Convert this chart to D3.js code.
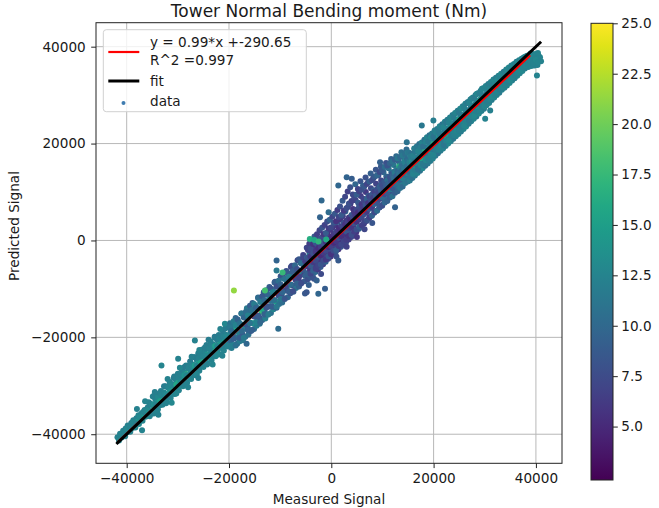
<!DOCTYPE html>
<html><head><meta charset="utf-8">
<script src="https://cdn.jsdelivr.net/npm/d3@7"></script>
<style>body{margin:0;background:#fff}svg{display:block}text{font-family:"DejaVu Sans",sans-serif;fill:#1a1a1a}</style>
</head><body><svg id="c" width="659" height="508"></svg>
<script>
const title = "Tower Normal Bending moment (Nm)";
const xLabel = "Measured Signal", yLabel = "Predicted Signal";
const xTicks = [-40000, -20000, 0, 20000, 40000];
const yTicks = [-40000, -20000, 0, 20000, 40000];
const cbTicks = [5, 7.5, 10, 12.5, 15, 17.5, 20, 22.5, 25];
const cbRange = [2.35, 25];
const slope = 0.99, intercept = -290.65, r2 = 0.997;
const fitX = [-41800, 40800], fitY = [-41800, 40800];
const regX = [-41800, 38900];
const legendLabels = ["y = 0.99*x +-290.65", "R^2 =0.997", "fit", "data"];

// [measured, predicted, colour value]
const lowerTail = [[-41800,-40600,12.4],[-41500,-41300,12.8],[-41300,-39900,12.1],[-41000,-40700,12.6],[-40700,-39300,12.3],[-40600,-40200,12.9],[-40300,-40400,12.5],[-40200,-38800,11.9],[-39900,-39600,12.7],[-39800,-38200,12.2],[-39500,-39000,13.1],[-39300,-39500,12.4],[-39100,-37700,12.0],[-38900,-38700,12.6],[-38700,-37100,12.3],[-38500,-38000,13.4],[-38300,-38600,12.8],[-38100,-36700,12.1],[-37900,-37400,14.6],[-37700,-36100,12.5],[-37600,-37900,12.9],[-37300,-36800,13.6],[-37100,-35700,12.2],[-36900,-37200,12.7],[-36700,-36100,15.2],[-36500,-35000,12.4],[-36300,-36400,12.9],[-36100,-35600,13.3],[-35900,-34500,12.0],[-41100,-40000,12.5],[-40500,-39700,12.2],[-40000,-38900,12.8],[-39400,-38400,12.3],[-38800,-37500,12.6],[-38200,-37800,12.1],[-37500,-36500,12.9],[-36800,-35400,12.4],[-36200,-35000,12.7]];

const lowerBand = [[-35700,-33400,12.3],[-35600,-35200,14.8],[-35500,-36300,12.6],[-35200,-33800,12.1],[-35100,-35500,12.9],[-34900,-32200,12.4],[-34800,-34200,15.9],[-34700,-35700,12.7],[-34400,-32800,12.2],[-34300,-34800,13.0],[-34100,-31700,11.8],[-34000,-33400,14.1],[-33900,-34900,12.5],[-33600,-32200,12.3],[-33500,-34000,12.8],[-33300,-31100,12.0],[-33100,-32600,15.4],[-33000,-33900,12.4],[-32700,-31400,12.6],[-32600,-33100,13.1],[-32400,-30100,11.9],[-32300,-31800,14.3],[-32200,-33300,12.7],[-31900,-30400,12.2],[-31800,-32200,12.9],[-31600,-29200,12.1],[-31500,-30900,16.2],[-31400,-32500,12.5],[-31100,-29700,12.4],[-31000,-31400,12.8],[-30800,-28400,11.7],[-30700,-30100,14.0],[-30600,-31700,12.6],[-30300,-28900,12.3],[-30200,-30600,13.2],[-30000,-27500,12.0],[-29900,-29300,15.6],[-29800,-30900,12.4],[-29500,-28000,12.2],[-29400,-29800,12.9],[-29200,-26700,11.8],[-29100,-28500,14.4],[-29000,-30100,12.7],[-28700,-27200,12.5],[-28600,-29000,12.2],[-28400,-25800,12.1],[-28300,-27600,16.8],[-28200,-29300,12.5],[-27900,-26400,12.3],[-27800,-28200,13.0],[-27600,-25000,11.6],[-27500,-26800,14.2],[-27400,-28600,12.6],[-27100,-25600,12.4],[-27000,-27400,12.8],[-26800,-24100,11.9],[-26700,-26000,15.1],[-26600,-27800,12.5],[-26300,-24700,12.2],[-26200,-26600,12.9],[-26000,-23300,12.0],[-25900,-25200,14.7],[-25800,-26900,12.4],[-25500,-23900,12.3],[-25400,-25800,13.1],[-25200,-22500,11.7],[-25100,-24400,16.0],[-25000,-26100,12.6],[-24700,-23100,12.5],[-24600,-25000,12.2],[-24400,-21600,11.9],[-24300,-23600,14.5],[-24200,-25400,12.7],[-23900,-22300,12.1],[-23800,-24200,12.9],[-23600,-20800,12.3],[-23500,-22800,15.3],[-23400,-24700,12.4],[-23100,-21500,12.0],[-23000,-23400,12.8],[-22800,-19900,11.5],[-22700,-22000,14.0],[-22600,-23900,12.6],[-22300,-20600,12.2],[-22200,-22600,13.0],[-22000,-19500,11.8],[-21900,-21600,16.5],[-21800,-23500,12.3],[-21500,-20200,12.4],[-21400,-22200,12.7],[-21200,-18700,11.6],[-21100,-20800,14.8],[-21000,-22700,12.5],[-20700,-19400,12.1],[-20600,-21400,12.9],[-20400,-17900,11.9],[-20300,-20000,15.0],[-20200,-21900,12.4]];

const lowerFill = [[-35500,-33600,12.2],[-35500,-35200,12.8],[-35100,-33900,12.5],[-35100,-35700,12.1],[-34700,-32100,12.0],[-34700,-33800,13.4],[-34300,-33800,12.6],[-34300,-35600,12.3],[-33900,-32300,12.9],[-33900,-34100,12.4],[-33500,-31600,12.1],[-33500,-33200,14.9],[-33100,-31900,12.7],[-33100,-33700,12.2],[-32700,-30100,11.8],[-32700,-31800,12.5],[-32300,-31800,13.0],[-32300,-33600,12.4],[-31900,-30300,12.6],[-31900,-32100,12.0],[-31500,-29600,12.3],[-31500,-31200,13.6],[-31100,-29900,12.8],[-31100,-31700,12.5],[-30700,-28100,11.9],[-30700,-29800,12.4],[-30300,-29800,15.8],[-30300,-31600,12.7],[-29900,-28300,12.2],[-29900,-30100,12.6],[-29500,-27600,12.0],[-29500,-29200,12.9],[-29100,-27900,12.5],[-29100,-29700,12.1],[-28700,-26100,11.7],[-28700,-27800,13.9],[-28300,-27800,12.6],[-28300,-29600,12.3],[-27900,-26300,12.4],[-27900,-28100,12.8],[-27500,-25600,12.1],[-27500,-27200,12.6],[-27100,-25900,12.9],[-27100,-27700,12.2],[-26700,-24100,11.8],[-26700,-25800,14.6],[-26300,-25800,12.5],[-26300,-27600,12.7],[-25900,-24300,12.3],[-25900,-26100,12.0],[-25500,-23600,12.2],[-25500,-25200,15.5],[-25100,-23900,12.6],[-25100,-25700,12.4],[-24700,-22100,11.9],[-24700,-23800,12.7],[-24300,-23800,12.8],[-24300,-25600,12.1],[-23900,-22300,12.4],[-23900,-24100,13.2],[-23500,-21600,12.0],[-23500,-23200,12.5],[-23100,-21900,12.7],[-23100,-23700,12.3],[-22700,-20100,11.6],[-22700,-21800,15.1],[-22300,-21800,12.5],[-22300,-23600,12.8],[-21900,-20300,12.2],[-21900,-22100,12.6],[-21500,-19600,11.9],[-21500,-21200,13.7],[-21100,-19900,12.4],[-21100,-21700,12.0],[-20700,-18100,11.7],[-20700,-19800,12.6],[-20300,-19800,12.9],[-20300,-21600,12.3]];

const lowerEdges = [[-38000,-34800,12.2],[-36400,-33200,12.5],[-34500,-31300,12.0],[-32000,-28600,12.4],[-29600,-26300,12.7],[-27300,-24000,12.1],[-25800,-22600,12.6],[-24000,-20500,11.9],[-21700,-18300,12.3],[-20800,-17200,12.8],[-37000,-39200,12.5],[-33800,-36000,12.2],[-31200,-33500,12.8],[-28000,-30300,12.4],[-26000,-28400,12.0],[-23200,-25600,12.6],[-21300,-23800,12.3]];

const midLower = [[-19800,-17100,10.8],[-19700,-18900,12.6],[-19600,-20700,9.5],[-19500,-22200,11.9],[-19200,-17700,11.2],[-19100,-19800,8.7],[-19000,-21600,12.2],[-18700,-16000,9.9],[-18600,-18300,15.8],[-18500,-20100,11.0],[-18400,-21300,10.4],[-18100,-16900,12.1],[-18000,-19000,9.2],[-17900,-20800,11.6],[-17600,-15100,10.3],[-17500,-17400,13.5],[-17400,-19300,8.8],[-17300,-20600,11.4],[-17000,-15800,9.6],[-16900,-18200,12.4],[-16800,-19900,10.1],[-16500,-14000,11.5],[-16400,-16300,16.9],[-16300,-18100,9.4],[-16200,-19400,10.7],[-15900,-14600,10.0],[-15800,-17000,12.8],[-15700,-18700,8.6],[-15400,-12900,9.3],[-15300,-15200,11.7],[-15200,-17100,14.2],[-15100,-18300,10.2],[-14800,-13500,11.1],[-14700,-15800,8.9],[-14600,-17600,11.8],[-14300,-11800,9.7],[-14200,-14000,12.3],[-14100,-15900,8.4],[-14000,-17200,10.9],[-13700,-12300,10.5],[-13600,-14700,17.8],[-13500,-16400,9.1],[-13200,-10700,8.7],[-13100,-12900,11.4],[-13000,-14800,9.8],[-12900,-16100,12.0],[-12600,-11200,10.1],[-12500,-13600,8.3],[-12400,-15300,11.3],[-12100,-9600,9.0],[-12000,-11800,13.9],[-11900,-13700,8.6],[-11800,-15000,10.6],[-11500,-10100,11.2],[-11400,-12500,9.4],[-11300,-14200,12.5],[-11000,-8500,8.2],[-10900,-10700,10.8],[-10800,-12600,15.1],[-10700,-13900,9.0],[-10400,-9000,9.9],[-10300,-11400,7.9],[-10200,-13100,11.0],[-9900,-7400,8.5],[-9800,-9600,12.2],[-9700,-11500,8.1],[-9600,-12800,10.4],[-9300,-7900,10.6],[-9200,-10300,7.6],[-9100,-12000,9.3],[-8800,-6300,8.0],[-8700,-8500,11.6],[-8600,-10400,7.4],[-8500,-11700,9.8],[-8200,-6800,9.1],[-8100,-9200,16.4],[-8000,-10900,8.2],[-7700,-5200,7.5],[-7600,-7400,10.2],[-7500,-9300,7.1],[-7400,-10600,9.5],[-7100,-5700,8.8],[-7000,-8100,6.9],[-6900,-9800,10.7],[-6600,-4100,7.2],[-6500,-6300,9.6],[-6400,-8200,6.6],[-6300,-9500,8.9],[-6000,-4600,8.4],[-5900,-7000,12.9],[-5800,-8700,7.0],[-5500,-3000,6.8],[-5400,-5200,9.0],[-5300,-7100,6.3],[-5200,-8400,8.6]];

const midFill = [[-19900,-17900,11.4],[-19900,-20500,9.8],[-19500,-18700,10.2],[-19500,-21700,12.0],[-19100,-16700,11.7],[-19100,-20300,9.1],[-18700,-17500,12.5],[-18700,-21700,10.6],[-18300,-16300,9.4],[-18300,-18900,11.9],[-17900,-17100,10.9],[-17900,-20100,8.9],[-17500,-15100,11.3],[-17500,-18700,10.0],[-17100,-15900,9.7],[-17100,-20100,11.6],[-16700,-14700,10.4],[-16700,-17300,8.7],[-16300,-15500,12.2],[-16300,-18500,9.6],[-15900,-13500,8.9],[-15900,-17100,11.1],[-15500,-14300,10.7],[-15500,-18500,9.2],[-15100,-13100,11.8],[-15100,-15700,8.5],[-14700,-13900,9.5],[-14700,-16900,12.4],[-14300,-11900,10.3],[-14300,-15500,8.8],[-13900,-12700,11.5],[-13900,-16900,9.9],[-13500,-11500,8.6],[-13500,-14100,15.6],[-13100,-12300,10.1],[-13100,-15300,9.3],[-12700,-10300,11.0],[-12700,-13900,8.4],[-12300,-11100,9.6],[-12300,-15300,11.7],[-11900,-9900,8.3],[-11900,-12500,10.5],[-11500,-10700,12.1],[-11500,-13700,8.9],[-11100,-8700,9.2],[-11100,-12300,10.8],[-10700,-9500,8.0],[-10700,-13700,11.4],[-10300,-8300,10.6],[-10300,-10900,8.2],[-9900,-9100,9.4],[-9900,-12100,11.2],[-9500,-7100,7.8],[-9500,-10700,9.7],[-9100,-7900,10.9],[-9100,-12100,8.4],[-8700,-6700,8.6],[-8700,-9300,7.5],[-8300,-7500,11.9],[-8300,-10500,9.0],[-7900,-5500,7.4],[-7900,-9100,10.3],[-7500,-6300,8.9],[-7500,-10500,7.7],[-7100,-5100,9.8],[-7100,-7700,7.2],[-6700,-5900,7.9],[-6700,-8900,9.4],[-6300,-3900,8.5],[-6300,-7500,6.8],[-5900,-4700,10.4],[-5900,-8900,7.6],[-5500,-3500,7.1],[-5500,-6100,8.7],[-5100,-4300,6.5],[-5100,-7300,9.2]];

const center = [[-4800,-1500,7.3],[-4750,-3500,8.9],[-4700,-5200,6.2],[-4650,-6700,9.4],[-4600,-8000,7.8],[-4300,-700,6.5],[-4250,-2700,10.3],[-4200,-4300,7.0],[-4150,-6100,5.8],[-4100,-7600,8.3],[-3800,-200,7.9],[-3750,-2300,6.1],[-3700,-3800,15.5],[-3650,-5600,7.4],[-3600,-7100,9.1],[-3300,800,8.6],[-3250,-1600,5.9],[-3200,-3300,8.0],[-3150,-5000,6.4],[-3100,-6500,10.0],[-2800,1300,6.6],[-2750,-900,9.3],[-2700,-2700,5.6],[-2650,-4500,7.7],[-2600,-6000,6.0],[-2300,2100,7.1],[-2250,-200,5.3],[-2200,-2200,8.4],[-2150,-4000,5.8],[-2100,-5500,8.8],[-1800,2600,8.2],[-1750,600,6.3],[-1700,-1600,5.1],[-1650,-3400,7.2],[-1600,-4900,6.7],[-1300,3200,6.8],[-1250,1100,9.0],[-1200,-1000,5.4],[-1150,-2900,6.9],[-1100,-4400,9.6],[-800,3900,7.6],[-750,1600,5.7],[-700,-500,8.3],[-650,-2300,5.2],[-600,-3800,7.5],[-300,4300,9.4],[-250,2200,6.0],[-200,100,5.0],[-150,-1800,7.8],[-100,-3300,6.1],[200,4900,7.0],[250,2700,5.5],[300,600,8.6],[350,-1300,5.3],[400,-2800,7.3],[700,5500,8.5],[750,3200,6.2],[800,1200,4.9],[850,-800,6.6],[900,-2300,9.1],[1200,6300,6.4],[1250,3800,8.9],[1300,1700,5.6],[1350,-200,7.0],[1400,-1800,5.9],[1700,7000,7.9],[1750,4400,5.8],[1800,2300,7.6],[1850,300,5.2],[1900,-1300,8.0],[2200,8200,8.8],[2250,5000,6.7],[2300,2800,5.4],[2350,800,7.4],[2400,-800,6.3],[2700,9000,7.2],[2750,6000,9.2],[2800,3400,6.0],[2850,1400,5.1],[2900,-300,7.7],[3200,10100,6.6],[3250,6900,7.8],[3300,4100,5.5],[3350,2000,8.2],[3400,200,6.5],[3700,11000,8.1],[3750,7600,6.3],[3800,4800,9.0],[3850,2600,5.7],[3900,700,7.0],[4200,9500,7.5],[4250,6500,5.9],[4300,5300,8.4],[4350,3200,6.1],[4400,1300,9.3],[4700,11600,9.7],[4750,8300,7.0],[4800,5900,6.2],[4850,3800,8.7],[4900,1800,5.6],[5200,10600,6.9],[5250,7800,8.6],[5300,6400,5.8],[5350,4300,7.3],[5400,2400,9.5],[5700,12200,8.3],[5750,9200,6.5],[5800,7000,9.1],[5850,4900,6.0],[5900,2900,7.9],[6200,11300,9.4],[6250,8600,7.1],[6300,7600,5.9],[6350,5400,8.0],[6400,3500,6.4],[6700,13000,8.0],[6750,10000,6.2],[6800,8100,8.8],[6850,6000,10.4],[6900,4000,7.2],[7200,12000,7.7],[7250,9200,9.3],[7300,8700,6.6],[7350,6600,7.9],[7400,4600,6.1],[7700,13800,9.1],[7750,10800,7.4],[7800,9300,6.3],[7850,7100,8.5],[7900,5100,10.9],[8200,12800,6.8],[8250,10300,8.9],[8300,9800,7.0],[8350,7700,6.2],[8400,5700,9.0],[8700,14600,8.4],[8750,11700,6.9],[8800,10400,9.5],[8850,8300,7.3],[8900,6200,8.1],[9200,13400,7.6],[9250,10900,9.8],[9300,10900,6.5],[9350,8800,8.7],[9400,6800,7.0],[9700,15200,8.6],[9750,12400,7.2],[9800,11500,10.1],[9850,9400,6.8],[9900,7300,9.4],[10200,14100,9.9],[10250,11900,7.8],[10300,12000,8.5],[10350,10000,11.2],[10400,7900,7.6],[10700,16000,8.0],[10750,13200,9.6],[10800,12600,7.1],[10850,10500,8.9],[10900,8500,10.3],[11200,14900,10.5],[11250,12600,8.2],[11300,13100,9.7],[11350,11100,7.4],[11400,9000,11.0],[11700,16800,9.3],[11750,14100,10.8],[11800,13700,8.3],[11850,11600,9.9],[11900,9600,8.0],[12200,15600,11.4],[12250,13400,9.0],[12300,14200,10.6],[12350,12200,8.6],[12400,10100,11.8],[12700,17400,10.1],[12750,14800,8.8],[12800,14700,11.9],[12850,12700,9.4],[12900,10700,10.9],[13200,16300,9.6],[13250,14300,11.3],[13300,15300,16.8],[13350,13200,8.9],[13400,11200,11.5],[13700,18200,10.7],[13750,15600,9.2],[13800,15800,11.1],[13850,13800,10.0],[13900,11700,12.3],[14200,17100,11.6],[14250,15000,9.8],[14300,16300,12.4],[14350,14300,10.4],[14400,12300,11.0],[14700,18800,10.2],[14750,16400,11.8],[14800,16800,10.0],[14850,14800,12.7],[14900,12800,11.3]];

const centerFill = [[-4550,-1950,6.8],[-4550,-3650,8.1],[-4550,-5450,6.4],[-4550,-7050,9.0],[-4050,-1650,7.6],[-4050,-3250,5.9],[-4050,-5150,8.7],[-4050,-6850,7.1],[-3550,-750,5.6],[-3550,-2650,7.9],[-3550,-4450,6.2],[-3550,-6250,9.3],[-3050,-550,8.4],[-3050,-2350,6.0],[-3050,-4150,7.4],[-3050,-5850,6.6],[-2550,350,6.9],[-2550,-1550,5.4],[-2550,-3350,8.6],[-2550,-5150,7.0],[-2050,450,7.7],[-2050,-1350,6.5],[-2050,-3150,5.2],[-2050,-4950,8.3],[-1550,1350,5.9],[-1550,-650,8.0],[-1550,-2550,6.3],[-1550,-4150,7.6],[-1050,1550,8.8],[-1050,-250,5.5],[-1050,-2150,7.3],[-1050,-3950,6.1],[-550,2450,6.4],[-550,450,7.8],[-550,-1350,5.0],[-550,-3250,8.5],[-50,2650,7.2],[-50,750,5.3],[-50,-1150,6.7],[-50,-2850,5.8],[450,3650,8.3],[450,1450,6.1],[450,-450,5.1],[450,-2150,7.5],[950,3950,5.7],[950,1850,7.4],[950,-150,6.0],[950,-1950,8.9],[1450,4850,7.0],[1450,2550,5.4],[1450,550,8.1],[1450,-1150,6.2],[1950,5250,8.6],[1950,2950,6.6],[1950,850,5.5],[1950,-850,7.3],[2450,6150,6.3],[2450,3650,7.9],[2450,1550,5.8],[2450,-150,6.9],[2950,6650,7.6],[2950,4050,5.9],[2950,1850,8.4],[2950,150,6.4],[3450,7650,8.0],[3450,4750,6.2],[3450,2550,7.1],[3450,950,5.6],[3950,8150,6.8],[3950,5250,8.7],[3950,2850,5.9],[3950,1150,7.7],[4450,9150,7.3],[4450,5950,6.0],[4450,3550,8.2],[4450,1850,6.5],[4950,9450,8.9],[4950,6350,7.2],[4950,3850,5.7],[4950,2250,7.9],[5450,10150,6.7],[5450,7050,8.0],[5450,4550,6.3],[5450,2850,9.1],[5950,10450,7.8],[5950,7450,5.9],[5950,4850,7.4],[5950,3150,6.6],[6450,11150,8.5],[6450,8050,6.9],[6450,5550,8.3],[6450,3850,7.0],[6950,11650,7.1],[6950,8550,9.4],[6950,5850,6.4],[6950,4150,8.1],[7450,12150,9.0],[7450,9050,7.0],[7450,6550,8.8],[7450,4850,6.7],[7950,12450,7.5],[7950,9450,8.2],[7950,6850,6.5],[7950,5150,9.3],[8450,13150,8.7],[8450,10050,6.8],[8450,7550,9.6],[8450,5850,7.4],[8950,13450,9.7],[8950,10450,7.9],[8950,7850,8.3],[8950,6150,10.2],[9450,14150,7.4],[9450,11050,9.1],[9450,8550,7.2],[9450,6850,8.6],[9950,14450,8.8],[9950,11450,7.6],[9950,8850,10.0],[9950,7150,7.8],[10450,15150,10.4],[10450,12050,8.4],[10450,9550,7.5],[10450,7850,9.7],[10950,15450,8.2],[10950,12450,10.6],[10950,9850,8.8],[10950,8150,9.2],[11450,15950,9.5],[11450,13050,8.0],[11450,10550,11.3],[11450,8850,8.7],[11950,16250,10.9],[11950,13350,9.3],[11950,10850,8.5],[11950,9150,10.7],[12450,16650,9.1],[12450,13950,11.6],[12450,11550,9.8],[12450,9850,8.9],[12950,16950,11.2],[12950,14350,9.7],[12950,11850,10.8],[12950,10150,9.5],[13450,17250,10.0],[13450,14950,11.9],[13450,12550,9.4],[13450,10850,11.1],[13950,17550,11.5],[13950,15350,10.3],[13950,12850,11.8],[13950,11150,10.1],[14450,17850,10.6],[14450,15950,12.0],[14450,13550,10.5],[14450,11850,11.4],[14950,18150,11.7],[14950,16350,10.9],[14950,13850,12.2],[14950,12150,11.0]];

const nearLine = [[1200,1800,6.1],[1700,2250,5.4],[2200,2800,7.0],[2700,3350,5.8],[3200,3800,6.6],[3700,4250,5.2],[4200,4850,7.4],[4700,5300,6.0],[5200,5750,5.5],[5700,6300,7.1],[6200,6850,6.3],[6700,7300,8.0],[7200,7750,5.9],[7700,8350,7.6],[8200,8800,6.7],[8700,9250,8.4],[9200,9850,7.0],[9700,10300,9.1],[10200,10750,7.7],[10700,11350,8.8],[11200,11800,9.6],[11700,12250,8.2],[12200,12850,10.3],[12700,13300,9.0],[13200,13750,10.8],[13700,14350,9.7],[14200,14800,11.2],[14700,15250,10.4]];

const upperBand = [[15200,18100,11.2],[15250,16100,12.1],[15300,14100,10.3],[15350,12400,11.7],[15700,17900,10.6],[15750,16400,13.4],[15800,14600,11.9],[15850,12900,10.8],[16200,19000,12.0],[16250,16800,10.9],[16300,15300,15.2],[16350,13400,11.4],[16700,19400,11.5],[16750,17200,12.6],[16800,15600,10.5],[16850,13900,12.2],[17200,19900,10.8],[17250,17700,11.8],[17300,16200,13.6],[17350,14400,11.0],[17700,20200,12.3],[17750,18300,10.7],[17800,16600,11.6],[17850,14900,12.8],[18200,20800,11.1],[18250,18700,16.7],[18300,17100,12.0],[18350,15400,10.6],[18700,21300,12.5],[18750,19200,11.2],[18800,17600,12.9],[18850,15900,11.4],[19200,21700,10.9],[19250,19700,12.4],[19300,18200,14.9],[19350,16400,11.8],[19700,22100,11.7],[19750,20200,12.8],[19800,18800,11.0],[19850,16900,12.3],[20200,22700,12.1],[20250,20800,10.8],[20300,19200,13.1],[20350,17500,11.6],[20700,23000,11.4],[20750,21300,15.7],[20800,19700,12.2],[20850,18000,10.9],[21200,23600,12.6],[21250,21700,11.3],[21300,20200,12.0],[21350,18500,11.7],[21700,24000,11.0],[21750,22200,12.7],[21800,20800,11.5],[21850,19000,12.4],[22200,24500,12.3],[22250,22700,11.1],[22300,21300,16.1],[22350,19500,11.9],[22700,24900,11.8],[22750,23100,12.5],[22800,21700,11.3],[22850,20000,12.8],[23200,25400,12.0],[23250,23600,13.8],[23300,22200,11.6],[23350,20500,12.2],[23700,25900,11.5],[23750,24100,12.2],[23800,22700,12.9],[23850,21000,11.4],[24200,26300,12.7],[24250,24500,11.2],[24300,23200,14.4],[24350,21500,12.0],[24700,26800,11.9],[24750,25000,12.8],[24800,23700,11.7],[24850,22000,12.5],[25200,27200,12.4],[25250,25500,11.5],[25300,24200,12.1],[25350,22500,11.8],[25700,27700,11.2],[25750,26000,15.9],[25800,24700,12.6],[25850,23000,12.3],[26200,28200,12.8],[26250,26500,12.0],[26300,25200,11.4],[26350,23500,12.9],[26700,28600,11.6],[26750,26900,12.7],[26800,25600,13.2],[26850,24100,11.8],[27200,29100,12.2],[27250,27400,11.3],[27300,26100,12.5],[27350,24600,12.1],[27700,29500,12.9],[27750,27900,14.6],[27800,26600,11.9],[27850,25100,12.6],[28200,30000,11.7],[28250,28400,12.4],[28300,27100,12.0],[28350,25600,11.5],[28700,30400,12.3],[28750,28800,11.8],[28800,27600,15.4],[28850,26200,12.8],[29200,30900,12.1],[29250,29300,12.9],[29300,28100,11.6],[29350,26700,12.2],[29700,31400,11.4],[29750,29800,12.3],[29800,28600,12.7],[29850,27200,11.9]];

const upperFill = [[15450,17350,11.6],[15450,15150,12.3],[15450,13200,10.9],[15950,17500,12.1],[15950,15900,11.0],[15950,13700,12.4],[16450,18300,11.3],[16450,16000,12.7],[16450,14500,11.8],[16950,18400,12.5],[16950,16900,11.4],[16950,14700,10.8],[17450,19300,11.9],[17450,17000,15.6],[17450,15500,12.2],[17950,19400,10.7],[17950,17900,12.3],[17950,15700,11.5],[18450,20300,12.2],[18450,18000,11.1],[18450,16600,12.8],[18950,20400,11.4],[18950,18900,12.6],[18950,16700,11.9],[19450,21300,12.8],[19450,19000,11.7],[19450,17600,12.1],[19950,21400,11.1],[19950,19900,16.2],[19950,17700,12.5],[20450,22300,12.4],[20450,20000,11.2],[20450,18600,11.8],[20950,22400,11.7],[20950,20900,12.8],[20950,18700,12.2],[21450,23300,12.0],[21450,21000,11.5],[21450,19600,12.7],[21950,23400,12.6],[21950,21900,11.9],[21950,19700,11.3],[22450,24300,11.4],[22450,22000,14.8],[22450,20600,12.4],[22950,24400,12.2],[22950,22900,11.6],[22950,20700,12.9],[23450,25300,12.7],[23450,23000,12.0],[23450,21600,11.7],[23950,25400,11.8],[23950,23900,12.5],[23950,21700,12.1],[24450,26300,12.3],[24450,24000,11.4],[24450,22600,12.6],[24950,26400,11.5],[24950,24900,15.2],[24950,22700,12.0],[25450,27300,12.9],[25450,25000,12.1],[25450,23600,11.6],[25950,27400,12.0],[25950,25900,11.8],[25950,23700,12.7],[26450,28300,11.6],[26450,26000,12.6],[26450,24600,12.2],[26950,28400,12.4],[26950,26900,11.9],[26950,24700,11.5],[27450,29300,12.1],[27450,27000,12.9],[27450,25600,12.3],[27950,29400,11.7],[27950,27900,12.2],[27950,25700,12.8],[28450,30300,12.6],[28450,28000,11.6],[28450,26600,12.0],[28950,30400,11.9],[28950,28900,14.1],[28950,26700,12.4],[29450,31300,12.3],[29450,29000,12.0],[29450,27600,11.8],[29950,31400,12.5],[29950,29900,11.7],[29950,27700,12.6]];

const upperTail = [[30200,31900,12.6],[30250,30300,11.5],[30300,29200,13.0],[30350,27900,12.2],[30700,32300,11.9],[30750,30800,12.8],[30800,29700,11.7],[30850,28400,12.5],[31200,32700,12.4],[31250,31300,15.0],[31300,30200,12.1],[31350,29000,11.8],[31700,33200,12.7],[31750,31800,11.6],[31800,30700,12.9],[31850,29500,12.3],[32200,33600,11.8],[32250,32300,12.5],[32300,31200,11.9],[32350,30000,12.6],[32700,34000,12.2],[32750,32700,13.7],[32800,31700,12.4],[32850,30500,11.7],[33200,34400,12.9],[33250,33200,12.0],[33300,32200,12.6],[33350,31100,12.3],[33700,34800,11.6],[33750,33700,12.7],[33800,32600,14.2],[33850,31500,12.0],[34200,35300,12.3],[34250,34200,11.9],[34300,33100,12.8],[34350,32000,12.5],[34700,35700,12.8],[34750,34600,12.2],[34800,33600,11.7],[34850,32500,12.9],[35200,36100,12.0],[35250,35100,15.3],[35300,34100,12.5],[35350,33000,12.1],[35700,36400,12.5],[35750,35500,12.3],[35800,34500,12.8],[35850,33500,11.9],[36200,36900,11.7],[36250,36000,12.9],[36300,35000,12.2],[36350,34000,12.6],[36700,37200,12.4],[36750,36400,12.0],[36800,35500,13.5],[36850,34500,12.3],[37200,37500,12.8],[37250,36800,12.4],[37300,35900,12.1],[37350,35000,12.7],[37700,37800,12.2],[37750,37100,12.6],[37800,36300,12.9],[37850,35500,12.0],[38200,38100,12.5],[38300,37300,12.3],[38400,36500,12.8],[38500,35800,12.1],[38800,38300,12.4],[38900,37500,12.7],[39000,36700,12.2],[39100,36000,12.6],[39400,38500,12.3],[39500,37600,12.9],[39600,36800,12.5],[39700,36100,12.1],[40000,38500,12.6],[40100,37700,12.4],[40200,36900,12.8],[40300,36200,12.2],[40500,38200,12.3],[40600,37400,12.7],[40800,37800,12.5],[41000,37000,12.4]];

const tailFill = [[30450,31100,12.2],[30450,29800,12.7],[30450,28700,11.9],[30950,31300,12.6],[30950,30400,12.1],[30950,29100,12.4],[31450,32100,11.8],[31450,30800,12.5],[31450,29700,12.9],[31950,32300,12.4],[31950,31400,14.0],[31950,30100,12.2],[32450,33100,12.9],[32450,31800,12.0],[32450,30700,12.5],[32950,33300,12.1],[32950,32400,12.6],[32950,31100,11.8],[33450,34100,12.5],[33450,32800,12.3],[33450,31700,12.7],[33950,34300,12.0],[33950,33400,12.8],[33950,32100,12.3],[34450,35100,12.7],[34450,33800,12.2],[34450,32700,12.0],[34950,35300,12.3],[34950,34400,12.5],[34950,33100,12.8],[35450,36000,12.6],[35450,34800,12.1],[35450,33700,12.4],[35950,36300,12.2],[35950,35400,12.7],[35950,34100,12.0],[36450,36800,12.8],[36450,35700,12.4],[36450,34700,12.6],[36950,37100,12.4],[36950,36300,12.0],[36950,35100,12.9],[37450,37600,12.1],[37450,36700,12.8],[37450,35700,12.3],[37950,37900,12.7],[37950,37100,12.3],[37950,36100,12.6],[38450,38200,12.3],[38450,37500,12.6],[38450,36400,12.2],[38950,38600,12.5],[38950,37000,12.4],[39450,38100,12.7],[39450,36600,12.3],[39950,38000,12.4],[39950,37300,12.8],[40400,38700,12.5],[40400,36800,12.6]];

const outliers = [[-33200,-25800,12.6],[-29940,-24430,12.4],[-26670,-20640,12.3],[-19040,-10320,21.3],[-16560,-21320,9.8],[-10700,-4130,9.6],[-10700,-6190,11.5],[-10370,-18230,10.3],[-12970,-10320,18.2],[-9530,-6600,17.5],[-5150,-10940,8.6],[-4820,-10670,8.4],[-4400,-9200,9.0],[-3400,-7900,8.1],[-2860,-8260,9.2],[-2540,-11000,9.7],[-2000,-6900,7.4],[-1230,-9970,8.9],[-2210,4810,9.5],[-1900,8260,9.9],[-530,5840,10.2],[-4200,300,16.5],[-3300,100,15.8],[-2500,-200,17.2],[-1000,200,16.0],[1000,-3300,7.9],[1370,-4130,8.7],[1370,11350,9.8],[3000,-1300,6.7],[3010,13060,9.6],[4000,12730,8.9],[5000,700,6.0],[6500,2300,7.1],[8000,3600,8.3],[9530,16160,9.2],[12460,6870,9.4],[14750,20290,10.9],[17690,23740,11.3],[19960,24770,11.9],[30080,25120,12.4],[31060,26830,12.1],[40200,34060,12.5]];

const points = [].concat(lowerTail, lowerBand, lowerFill, lowerEdges, midLower, midFill, center, centerFill, nearLine, upperBand, upperFill, upperTail, tailFill, outliers);

const svg = d3.select("#c");
const L = 96, R = 562, T = 22.7, B = 463.3;
const x = d3.scaleLinear().domain([-46000, 45100]).range([L, R]);
const y = d3.scaleLinear().domain([-46000, 44950]).range([B, T]);
const color = v => d3.interpolateViridis((v - cbRange[0]) / (cbRange[1] - cbRange[0]));
const fs = 13.6;

const g = svg.append("g");
g.selectAll(".gx").data(xTicks).join("line").attr("x1", d => x(d)).attr("x2", d => x(d)).attr("y1", T).attr("y2", B).attr("stroke", "#b8b8b8").attr("stroke-width", 1);
g.selectAll(".gy").data(yTicks).join("line").attr("y1", d => y(d)).attr("y2", d => y(d)).attr("x1", L).attr("x2", R).attr("stroke", "#b8b8b8").attr("stroke-width", 1);

svg.append("clipPath").attr("id", "clp").append("rect").attr("x", L).attr("y", T).attr("width", R - L).attr("height", B - T);
svg.append("g").attr("clip-path", "url(#clp)").selectAll("circle").data(points).join("circle")
  .attr("cx", d => x(d[0])).attr("cy", d => y(d[1])).attr("r", 3).attr("fill", d => color(d[2]));

const line = d3.line().x(d => x(d[0])).y(d => y(d[1]));
svg.append("path").datum(regX.map(v => [v, slope * v + intercept])).attr("d", line).attr("stroke", "#ff0000").attr("stroke-width", 2.2).attr("fill", "none");
svg.append("path").datum(fitX.map((v, i) => [v, fitY[i]])).attr("d", line).attr("stroke", "#000").attr("stroke-width", 3).attr("fill", "none").attr("stroke-linecap", "square");

svg.append("rect").attr("x", L).attr("y", T).attr("width", R - L).attr("height", B - T).attr("fill", "none").attr("stroke", "#222").attr("stroke-width", 1);

const fmt = d3.format("d");
const ax = svg.append("g").attr("transform", `translate(0,${B})`).call(d3.axisBottom(x).tickValues(xTicks).tickFormat(fmt).tickSize(4.8).tickPadding(5.5));
const ay = svg.append("g").attr("transform", `translate(${L},0)`).call(d3.axisLeft(y).tickValues(yTicks).tickFormat(fmt).tickSize(4.8).tickPadding(5.5));
[ax, ay].forEach(a => { a.select(".domain").remove(); a.selectAll("line").attr("stroke", "#222"); a.selectAll("text").attr("font-size", fs).attr("font-family", "DejaVu Sans").attr("fill", "#1a1a1a"); });

svg.append("text").attr("x", (L + R) / 2).attr("y", 16.5).attr("text-anchor", "middle").attr("font-size", 17).text(title);
svg.append("text").attr("x", (L + R) / 2).attr("y", 504).attr("text-anchor", "middle").attr("font-size", fs).text(xLabel);
svg.append("text").attr("transform", "translate(18.5,226) rotate(-90)").attr("text-anchor", "middle").attr("font-size", fs).text(yLabel);

const lg = svg.append("g");
lg.append("rect").attr("x", 103.3).attr("y", 29.7).attr("width", 203).attr("height", 82).attr("rx", 3).attr("fill", "#fff").attr("fill-opacity", 0.8).attr("stroke", "#d0d0d0");
lg.append("line").attr("x1", 108.3).attr("x2", 139.3).attr("y1", 52).attr("y2", 52).attr("stroke", "#ff0000").attr("stroke-width", 2.2);
lg.append("line").attr("x1", 108.3).attr("x2", 139.3).attr("y1", 81).attr("y2", 81).attr("stroke", "#000").attr("stroke-width", 3);
lg.append("circle").attr("cx", 123.5).attr("cy", 103).attr("r", 2).attr("fill", "#3f7cb0");
[[legendLabels[0], 47.3], [legendLabels[1], 65], [legendLabels[2], 85.7], [legendLabels[3], 106]].forEach(([t, yy]) =>
  lg.append("text").attr("x", 150).attr("y", yy).attr("font-size", fs).text(t));

const cbL = 591, cbR = 613, cbT = 23.3, cbB = 480;
const grad = svg.append("defs").append("linearGradient").attr("id", "vir").attr("x1", 0).attr("y1", 1).attr("x2", 0).attr("y2", 0);
d3.range(0, 1.0001, 0.05).forEach(t => grad.append("stop").attr("offset", t).attr("stop-color", d3.interpolateViridis(t)));
svg.append("rect").attr("x", cbL).attr("y", cbT).attr("width", cbR - cbL).attr("height", cbB - cbT).attr("fill", "url(#vir)").attr("stroke", "#222").attr("stroke-width", 1);
const cy = d3.scaleLinear().domain(cbRange).range([cbB, cbT]);
const ac = svg.append("g").attr("transform", `translate(${cbR},0)`).call(d3.axisRight(cy).tickValues(cbTicks).tickFormat(d3.format(".1f")).tickSize(4.8).tickPadding(3.5));
ac.select(".domain").remove(); ac.selectAll("line").attr("stroke", "#222");
ac.selectAll("text").attr("font-size", fs).attr("font-family", "DejaVu Sans").attr("fill", "#1a1a1a");
</script></body></html>
